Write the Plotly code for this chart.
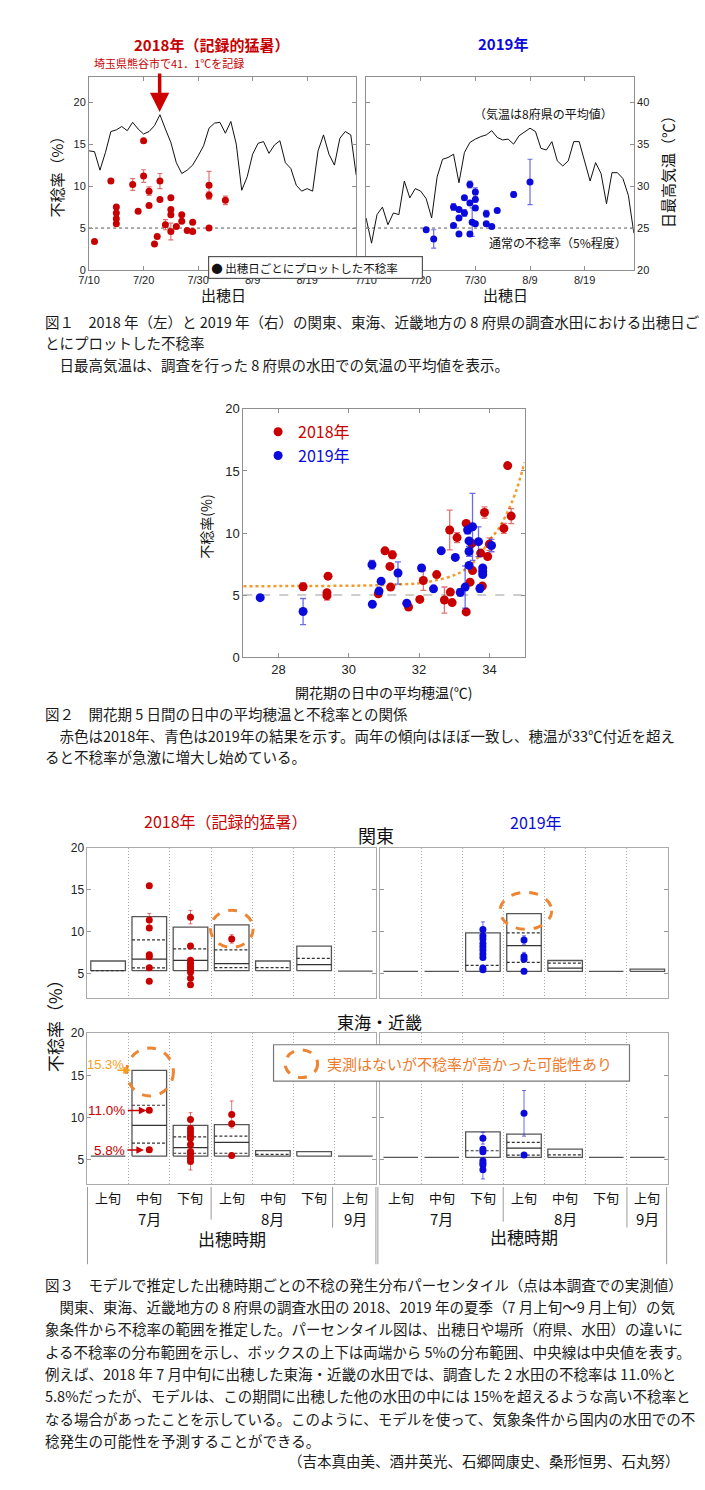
import plotly.graph_objects as go
import pandas as pd

W, H = 705, 1490
JP = "Noto Sans CJK JP"
NUM = "Liberation Sans"
RED = "#C80000"
BLUE = "#0A0ADC"
ORANGE = "#EE8533"
RED_E = "rgba(200,0,0,0.55)"
BLUE_E = "rgba(10,10,220,0.6)"
NORMAL_RATE = 5

# ================= Figure 1 data =================
tmax_dates_2018 = pd.date_range("2018-07-10", periods=50).strftime("%Y-%m-%d").tolist()
tmax_dates_2019 = pd.date_range("2019-07-10", periods=50).strftime("%Y-%m-%d").tolist()
tmax_2018 = [34.2, 34.1, 31.9, 34.0, 36.5, 36.7, 37.1, 36.6, 37.6, 36.8,
             36.2, 36.5, 37.2, 38.5, 36.8, 35.2, 32.8, 31.5, 31.9, 32.5,
             33.6, 34.8, 36.9, 37.5, 37.6, 36.3, 37.7, 35.0, 29.5, 31.1,
             33.8, 35.1, 35.3, 33.9, 34.9, 35.4, 32.8, 32.1, 30.1, 29.4,
             29.7, 29.4, 34.2, 36.1, 33.8, 32.5, 35.7, 36.5, 36.1, 31.3]
tmax_2019 = [26.2, 23.2, 26.6, 27.5, 25.4, 26.8, 26.6, 30.6, 28.6, 29.7,
             29.4, 28.5, 26.2, 31.1, 33.2, 33.4, 33.8, 30.4, 34.0, 35.2,
             35.6, 35.9, 36.1, 36.6, 35.8, 35.5, 35.6, 35.0, 36.0, 36.5,
             36.9, 36.5, 34.5, 34.3, 35.3, 33.0, 32.4, 33.0, 35.3, 35.3,
             32.8, 30.6, 32.8, 31.5, 27.9, 31.6, 31.6, 30.9, 28.9, 24.4]

s18_date = ["2018-07-11", "2018-07-14", "2018-07-15", "2018-07-15", "2018-07-15", "2018-07-15",
            "2018-07-18", "2018-07-19", "2018-07-20", "2018-07-20", "2018-07-21", "2018-07-21",
            "2018-07-22", "2018-07-22 12:00", "2018-07-23", "2018-07-23", "2018-07-24",
            "2018-07-25", "2018-07-25", "2018-07-25", "2018-07-25", "2018-07-26",
            "2018-07-27", "2018-07-27", "2018-07-28", "2018-07-29", "2018-07-29",
            "2018-08-01", "2018-08-01", "2018-08-01", "2018-08-04"]
s18_rate = [3.4, 10.6, 7.5, 6.8, 6.1, 5.5, 10.2, 7.0, 15.4, 11.2, 9.4, 7.7, 3.1, 4.0,
            10.6, 8.4, 5.4, 8.6, 7.2, 6.6, 4.6, 5.2, 6.6, 5.8, 4.7, 5.7, 4.6,
            10.1, 8.9, 5.0, 8.3]
s18_err = [0, 0, 0, 0, 0, 0, 0.7, 0, 0, 0.75, 0.5, 0, 0, 0, 0.9, 0, 0.6, 0, 0, 0, 1.0,
           0, 0, 0, 0, 0, 0, 1.65, 0.4, 0, 0.5]

s19_date = ["2019-07-21", "2019-07-22 09:00", "2019-07-26", "2019-07-26", "2019-07-27",
            "2019-07-27", "2019-07-27", "2019-07-28", "2019-07-28", "2019-07-29",
            "2019-07-29", "2019-07-29", "2019-07-29 10:00", "2019-07-30", "2019-07-30",
            "2019-07-30", "2019-07-30", "2019-08-01", "2019-08-01", "2019-08-02",
            "2019-08-03", "2019-08-06", "2019-08-09"]
s19_rate = [4.8, 3.7, 7.5, 5.3, 7.2, 6.2, 4.3, 8.6, 6.8, 10.2, 8.0, 4.3, 5.7, 9.3, 8.4,
            7.4, 5.5, 6.7, 5.5, 5.2, 7.1, 9.0, 10.5]
s19_err = [0, 1.1, 0.4, 0, 0, 0, 0, 0, 0.4, 0.4, 0, 0, 1.7, 0.5, 0, 0, 0, 0.4, 0, 0, 0,
           0.3, 2.7]

f1_range_2018 = ["2018-07-10", "2018-08-28"]
f1_range_2019 = ["2019-07-10", "2019-08-28"]
f1_ticks_2018 = ["2018-07-10", "2018-07-20", "2018-07-30", "2018-08-09", "2018-08-19"]
f1_ticks_2019 = ["2019-07-10", "2019-07-20", "2019-07-30", "2019-08-09", "2019-08-19"]
f1_ticklabels = ["7/10", "7/20", "7/30", "8/9", "8/19"]

# ================= Figure 2 data =================
f2_temp_2018 = [28.70, 29.41, 29.38, 29.38, 30.84, 31.03, 31.17, 31.19, 31.24, 31.70,
                32.02, 32.12, 32.50, 32.72, 32.87, 32.89, 32.94, 33.08, 33.34, 33.34,
                33.45, 33.50, 33.52, 33.75, 33.80, 33.86, 33.95, 34.00, 34.41, 34.52, 34.62]
f2_rate_2018 = [5.67, 6.52, 5.19, 4.95, 5.10, 8.56, 7.31, 5.64, 8.24, 4.04,
                4.65, 6.17, 6.65, 4.60, 10.24, 5.24, 4.39, 9.63, 10.77, 3.64,
                6.04, 9.15, 6.97, 8.38, 5.72, 11.65, 8.11, 9.10, 10.37, 15.43, 11.36]
f2_err_2018 = [0.3, 0, 0, 0.35, 0, 0, 0, 0, 0.3, 0,
               0, 0.8, 0, 1.05, 1.6, 0, 0, 0.4, 0, 0,
               0, 0, 0, 0, 0, 0.45, 0, 0.5, 0.4, 0, 0.6]
f2_temp_2019 = [27.48, 28.70, 30.66, 30.67, 30.86, 30.92, 31.40, 31.65, 32.07, 32.41,
                32.63, 33.03, 33.17, 33.31, 33.38, 33.42, 33.42, 33.42, 33.52, 33.69,
                33.73, 33.81, 33.81, 33.81, 34.06]
f2_rate_2019 = [4.79, 3.67, 7.45, 4.26, 5.32, 6.12, 6.78, 4.34, 7.18, 5.50,
                8.56, 8.03, 5.21, 5.64, 10.24, 9.36, 8.51, 7.39, 10.50, 9.30,
                5.53, 7.18, 6.90, 6.65, 8.99]
f2_err_2019 = [0, 1.05, 0.35, 0, 0, 0, 0.9, 0, 0.2, 0,
               0, 0, 0.3, 1.7, 0.3, 0, 0.4, 0, 2.7, 1.2,
               0.3, 0, 0, 0, 0.5]
fit_temp = [27, 28, 29, 30, 30.5, 31, 31.5, 32, 32.5, 33, 33.25, 33.5, 33.75, 34, 34.25,
            34.5, 34.75, 35]
fit_rate = [5.7, 5.72, 5.73, 5.75, 5.77, 5.8, 5.86, 5.95, 6.2, 6.6, 6.95, 7.5, 8.3, 9.4,
            10.3, 11.6, 13.3, 15.7]

# ================= Figure 3 data =================
periods = ["上旬", "中旬", "下旬", "上旬", "中旬", "下旬", "上旬"]
months = ["7月", "8月", "9月"]
month_center = [1, 4, 6]

k18_lo = [5.35, 5.35, 5.35, 5.35, 5.35, 5.35, 5.3]
k18_hi = [6.5, 11.8, 10.55, 10.8, 6.5, 8.27, 5.35]
k18_med = [None, 6.73, 6.57, 6.18, None, 6.06, None]
k18_d1 = [5.35, 9.02, 7.95, 7.83, 5.71, 6.81, None]
k18_d2 = [None, 5.67, None, 5.71, None, None, None]
k18_col = [1, 1, 1, 1, 1, 1, 1, 2, 2, 2, 2, 2, 2, 2, 2, 2, 3]
k18_val = [15.47, 11.38, 10.43, 7.24, 7.0, 5.71, 4.09,
           11.73, 8.3, 6.6, 6.2, 5.87, 5.55, 5.16, 4.45, 3.66, 9.13]
k18_err = [0, 0.8, 0, 0.3, 0, 0, 0, 0.8, 0.3, 0, 0, 0, 0, 0, 0, 0, 0.5]

k19_lo = [5.27, 5.27, 5.27, 5.27, 5.27, 5.27, 5.27]
k19_hi = [5.27, 5.27, 9.86, 12.14, 6.56, 5.27, 5.54]
k19_med = [None, None, None, 8.33, 5.66, None, None]
k19_d1 = [None, None, 5.97, 9.86, 6.25, None, None]
k19_d2 = [None, None, None, 6.33, None, None, None]
k19_col = [2, 2, 2, 2, 2, 2, 2, 2, 2, 2, 3, 3, 3, 3]
k19_val = [10.26, 9.51, 9.12, 8.6, 8.21, 7.82, 7.35, 6.92, 5.66, 5.46, 9.0, 7.03, 6.72, 5.27]
k19_err = [0.9, 0, 0, 0, 0, 0, 0, 0, 0, 0, 0.5, 0.5, 0, 0.3]

t18_lo = [5.43, 5.43, 5.43, 5.43, 5.43, 5.43, 5.43]
t18_hi = [5.43, 15.6, 9.09, 9.17, 6.09, 5.98, 5.43]
t18_med = [None, 9.09, 6.44, 7.07, None, None, None]
t18_d1 = [None, 11.47, 7.73, 7.81, 5.66, None, None]
t18_d2 = [None, 6.99, 5.78, 5.78, None, None, None]
t18_col = [1, 1, 2, 2, 2, 2, 2, 2, 2, 2, 2, 2, 3, 3, 3]
t18_val = [10.88, 6.21, 9.79, 8.7, 8.31, 7.9, 7.53, 6.83, 5.98, 5.66, 5.2, 4.8, 10.38, 9.29, 5.51]
t18_err = [0, 0, 0.8, 0, 0, 0, 0, 0, 0, 0, 0, 1.0, 1.6, 0, 0]

t19_lo = [5.29, 5.29, 5.29, 5.29, 5.29, 5.29, 5.29]
t19_hi = [5.29, 5.29, 8.31, 8.04, 6.27, 5.29, 5.29]
t19_med = [None, None, None, 6.4, None, None, None]
t19_d1 = [None, None, 6.08, 7.06, 5.6, None, None]
t19_d2 = [None, None, None, 5.57, None, None, None]
t19_col = [2, 2, 2, 2, 2, 2, 2, 3, 3]
t19_val = [7.57, 6.27, 5.96, 4.9, 4.6, 4.39, 3.84, 10.51, 5.57]
t19_err = [0.7, 0, 0, 0, 0, 0, 1.1, 2.7, 0]


def PX(x):
    return x / W


def PY(y):
    return 1 - y / H


traces = []
NOHOVER = dict(showlegend=False, hoverinfo="skip")

# ---- Figure 1 traces
traces.append(go.Scatter(x=tmax_dates_2018, y=tmax_2018, mode="lines",
                         line=dict(color="#111", width=1), xaxis="x", yaxis="y2", **NOHOVER))
traces.append(go.Scatter(x=s18_date, y=s18_rate, mode="markers",
                         marker=dict(color=RED, size=7),
                         error_y=dict(type="data", array=s18_err, color=RED_E, thickness=1.2, width=2.5),
                         xaxis="x", yaxis="y", **NOHOVER))
traces.append(go.Scatter(x=tmax_dates_2019, y=tmax_2019, mode="lines",
                         line=dict(color="#111", width=1), xaxis="x2", yaxis="y4", **NOHOVER))
traces.append(go.Scatter(x=s19_date, y=s19_rate, mode="markers",
                         marker=dict(color=BLUE, size=7),
                         error_y=dict(type="data", array=s19_err, color=BLUE_E, thickness=1.2, width=2.5),
                         xaxis="x2", yaxis="y3", **NOHOVER))

# ---- Figure 2 traces
traces.append(go.Scatter(x=[27, 35], y=[NORMAL_RATE, NORMAL_RATE], mode="lines",
                         line=dict(color="#bdbdbd", width=1.5, dash="dash"),
                         xaxis="x3", yaxis="y5", **NOHOVER))
traces.append(go.Scatter(x=fit_temp, y=fit_rate, mode="lines", line_shape="spline",
                         line=dict(color="#F39A2B", width=2.5, dash="dot"),
                         xaxis="x3", yaxis="y5", **NOHOVER))
traces.append(go.Scatter(x=f2_temp_2018, y=f2_rate_2018, mode="markers",
                         name="<span style='color:%s'>2018年</span>" % RED,
                         marker=dict(color=RED, size=9),
                         error_y=dict(type="data", array=f2_err_2018, color=RED_E, thickness=1.3, width=3),
                         xaxis="x3", yaxis="y5", showlegend=True, hoverinfo="skip"))
traces.append(go.Scatter(x=f2_temp_2019, y=f2_rate_2019, mode="markers",
                         name="<span style='color:%s'>2019年</span>" % BLUE,
                         marker=dict(color=BLUE, size=9),
                         error_y=dict(type="data", array=f2_err_2019, color=BLUE_E, thickness=1.3, width=3),
                         xaxis="x3", yaxis="y5", showlegend=True, hoverinfo="skip"))


# ---- Figure 3 traces
def percentile_panel(lo, hi, med, d1, d2, col, val, err, color, ecolor, xa, ya):
    w = 0.42
    bx, by = [], []
    for i, (l, h) in enumerate(zip(lo, hi)):
        bx += [i - w, i + w, i + w, i - w, i - w, None]
        by += [l, l, h, h, l, None]
    out = [go.Scatter(x=bx, y=by, mode="lines", line=dict(color="#555", width=1.3),
                      xaxis=xa, yaxis=ya, **NOHOVER)]
    for arr, dash, lc in [(med, "solid", "#333"), (d1, "3px,2px", "#333"), (d2, "3px,2px", "#333")]:
        lx, ly = [], []
        for i, v in enumerate(arr):
            if v is None:
                continue
            lx += [i - w, i + w, None]
            ly += [v, v, None]
        out.append(go.Scatter(x=lx, y=ly, mode="lines", line=dict(color=lc, width=1.2, dash=dash),
                              xaxis=xa, yaxis=ya, **NOHOVER))
    out.append(go.Scatter(x=col, y=val, mode="markers", marker=dict(color=color, size=7),
                          error_y=dict(type="data", array=err, color=ecolor, thickness=1, width=2),
                          xaxis=xa, yaxis=ya, **NOHOVER))
    return out


traces += percentile_panel(k18_lo, k18_hi, k18_med, k18_d1, k18_d2, k18_col, k18_val, k18_err,
                           RED, RED_E, "x4", "y6")
traces += percentile_panel(k19_lo, k19_hi, k19_med, k19_d1, k19_d2, k19_col, k19_val, k19_err,
                           BLUE, BLUE_E, "x5", "y7")
traces += percentile_panel(t18_lo, t18_hi, t18_med, t18_d1, t18_d2, t18_col, t18_val, t18_err,
                           RED, RED_E, "x6", "y8")
traces += percentile_panel(t19_lo, t19_hi, t19_med, t19_d1, t19_d2, t19_col, t19_val, t19_err,
                           BLUE, BLUE_E, "x7", "y9")

fig = go.Figure(traces)

# ---------------- axes ----------------
FRAME = "#8f8f8f"
base = dict(showline=True, linecolor=FRAME, linewidth=1, ticks="inside", ticklen=4,
            tickcolor=FRAME, showgrid=False, zeroline=False,
            tickfont=dict(family=NUM, size=11, color="#222"))

f1x_L = [PX(79.3), PX(350.7)]
f1x_R = [PX(360.7), PX(632.7)]
f1y = [PY(265.7), PY(70.7)]

lay = {}
lay["xaxis"] = dict(base, domain=f1x_L, anchor="y", type="date", range=f1_range_2018,
                    tickvals=f1_ticks_2018, ticktext=f1_ticklabels, mirror="ticks")
lay["yaxis"] = dict(base, domain=f1y, anchor="x", range=[0, 23], tickvals=[0, 5, 10, 15, 20],
                    mirror="ticks")
lay["yaxis2"] = dict(overlaying="y", anchor="x", range=[20, 43], visible=False)
lay["xaxis2"] = dict(base, domain=f1x_R, anchor="y3", type="date", range=f1_range_2019,
                     tickvals=f1_ticks_2019, ticktext=f1_ticklabels, mirror="ticks")
lay["yaxis3"] = dict(base, domain=f1y, anchor="x2", range=[0, 23], tickvals=[0, 5, 10, 15, 20],
                     showticklabels=False, mirror=False)
lay["yaxis4"] = dict(base, overlaying="y3", anchor="x2", side="right", range=[20, 43],
                     tickvals=[20, 25, 30, 35, 40])

lay["xaxis3"] = dict(base, domain=[PX(236), PX(521.7)], anchor="y5", range=[27, 35],
                     tickvals=[28, 30, 32, 34], mirror="ticks",
                     tickfont=dict(family=NUM, size=13, color="#222"))
lay["yaxis5"] = dict(base, domain=[PY(656.7), PY(406)], anchor="x3", range=[0, 20],
                     tickvals=[0, 5, 10, 15, 20], mirror="ticks",
                     tickfont=dict(family=NUM, size=13, color="#222"))

f3x_L = [PX(77.7), PX(370.7)]
f3x_R = [PX(375), PX(667.3)]
f3y_T = [PY(1001), PY(849.3)]
f3y_B = [PY(1189.3), PY(1036.7)]
f3x = dict(showline=True, linecolor="#aaaaaa", mirror=True, range=[-0.5, 6.5],
           tickvals=[0.5, 1.5, 2.5, 3.5, 4.5, 5.5], showticklabels=False, ticks="",
           showgrid=True, gridcolor="#a8a8a8", griddash="1px,2px", gridwidth=1, zeroline=False)
f3y = dict(base, linecolor="#aaaaaa", tickcolor="#999", range=[2.1, 20], tickvals=[5, 10, 15, 20],
           mirror="ticks", tickfont=dict(family=NUM, size=12, color="#222"))
lay["xaxis4"] = dict(f3x, domain=f3x_L, anchor="y6")
lay["yaxis6"] = dict(f3y, domain=f3y_T, anchor="x4")
lay["xaxis5"] = dict(f3x, domain=f3x_R, anchor="y7")
lay["yaxis7"] = dict(f3y, domain=f3y_T, anchor="x5", showticklabels=False)
lay["xaxis6"] = dict(f3x, domain=f3x_L, anchor="y8")
lay["yaxis8"] = dict(f3y, domain=f3y_B, anchor="x6")
lay["xaxis7"] = dict(f3x, domain=f3x_R, anchor="y9")
lay["yaxis9"] = dict(f3y, domain=f3y_B, anchor="x7", showticklabels=False)

fig.update_layout(**lay)

# ---------------- annotations ----------------
A = []


def txt(text, x, y, size, color="#111", bold=False, angle=0, xanchor="center", family=JP):
    A.append(dict(text=("<b>%s</b>" % text) if bold else text, x=PX(x), y=PY(y),
                  xref="paper", yref="paper", showarrow=False, xanchor=xanchor,
                  yanchor="middle", textangle=angle,
                  font=dict(family=family, size=size, color=color)))


def arrow(x_tip, y_tip, dx, color, width, head=2, size=1.0):
    A.append(dict(text="", x=PX(x_tip), y=PY(y_tip), xref="paper", yref="paper",
                  showarrow=True, ax=dx[0], ay=dx[1], arrowhead=head, arrowwidth=width,
                  arrowsize=size, arrowcolor=color))


# Figure 1
txt("2018年（記録的猛暑）", 204, 38, 15, RED, bold=True)
txt("埼玉県熊谷市で41．1℃を記録", 160, 57, 11, RED)
arrow(151, 106, (0, -40), "#CC0000", 3.5, head=2, size=1.1)
txt("2019年", 500, 37, 15, BLUE, bold=True)
txt("不稔率（%）", 46, 168, 15, angle=-90)
txt("日最高気温（℃）", 667, 163, 15, angle=-90)
txt("出穂日", 216, 290, 15)
txt("出穂日", 502, 290, 15)
txt("（気温は8府県の平均値）", 541, 108, 12)
txt("通常の不稔率（5%程度）", 556, 238, 12)
A.append(dict(text="● 出穂日ごとにプロットした不稔率", x=PX(309.7), y=PY(251.3), xref="paper",
              yref="paper", showarrow=False, width=209, height=17, align="left",
              bordercolor="#555", borderwidth=1.2, borderpad=2, bgcolor="white",
              font=dict(family=JP, size=11.5, color="#111")))

# Figure 2
txt("不稔率(%)", 198, 525, 14, angle=-90)
txt("開花期の日中の平均穂温(℃)", 378, 692, 14)

# Figure 3
txt("2018年（記録的猛暑）", 218, 822, 16, RED)
txt("2019年", 533, 823, 16, BLUE)
txt("関東", 371, 836, 18)
txt("東海・近畿", 374, 1025, 17)
txt("不稔率（%）", 44, 1025, 17, angle=-90)
txt("15.3%", 96, 1068, 13, "#F5A01E", family=NUM)
arrow(121.7, 1074, (-15, 0), "#F5A01E", 1.5, head=2, size=1)
txt("11.0%", 97, 1114.7, 13.5, RED, family=NUM)
arrow(137.5, 1114.7, (-20, 0), RED, 1.5, head=2, size=1)
txt("5.8%", 100, 1154.7, 13.5, RED, family=NUM)
arrow(135, 1154.7, (-18, 0), RED, 1.5, head=2, size=1)
txt("実測はないが不稔率が高かった可能性あり", 319, 1067, 15, "#EE7A2A", xanchor="left")

for xa, yb in [("x6", 1244), ("x7", 1242)]:
    for i, p in enumerate(periods):
        A.append(dict(text=p, x=i, xref=xa, y=PY(1202.5), yref="paper", showarrow=False,
                      yanchor="middle", font=dict(family=JP, size=13, color="#111")))
    for m, c in zip(months, month_center):
        A.append(dict(text=m, x=c, xref=xa, y=PY(1224), yref="paper", showarrow=False,
                      yanchor="middle", font=dict(family=JP, size=15, color="#111")))
    A.append(dict(text="出穂時期", x=3, xref=xa, y=PY(yb), yref="paper", showarrow=False,
                  yanchor="middle", font=dict(family=JP, size=17, color="#111")))

# Captions
CAP = 14.5
CAPC = "#1a1a1a"
cap1 = ["図１　2018 年（左）と 2019 年（右）の関東、東海、近畿地方の 8 府県の調査水田における出穂日ご",
        "とにプロットした不稔率",
        "　日最高気温は、調査を行った 8 府県の水田での気温の平均値を表示。"]
for t, y in zip(cap1, [318, 339, 361]):
    txt(t, 33, y, CAP, CAPC, xanchor="left")
cap2 = ["図２　開花期 5 日間の日中の平均穂温と不稔率との関係",
        "　赤色は2018年、青色は2019年の結果を示す。両年の傾向はほぼ一致し、穂温が33℃付近を超え",
        "ると不稔率が急激に増大し始めている。"]
for t, y in zip(cap2, [714, 736, 757]):
    txt(t, 33, y, CAP, CAPC, xanchor="left")
cap3 = ["図３　モデルで推定した出穂時期ごとの不稔の発生分布パーセンタイル（点は本調査での実測値）",
        "　関東、東海、近畿地方の 8 府県の調査水田の 2018、2019 年の夏季（7 月上旬～9 月上旬）の気",
        "象条件から不稔率の範囲を推定した。パーセンタイル図は、出穂日や場所（府県、水田）の違いに",
        "よる不稔率の分布範囲を示し、ボックスの上下は両端から 5%の分布範囲、中央線は中央値を表す。",
        "例えば、2018 年 7 月中旬に出穂した東海・近畿の水田では、調査した 2 水田の不稔率は 11.0%と",
        "5.8%だったが、モデルは、この期間に出穂した他の水田の中には 15%を超えるような高い不稔率と",
        "なる場合があったことを示している。このように、モデルを使って、気象条件から国内の水田での不",
        "稔発生の可能性を予測することができる。"]
for i, t in enumerate(cap3):
    txt(t, 33, 1290 + i * 22.6, CAP, CAPC, xanchor="left")
txt("（吉本真由美、酒井英光、石郷岡康史、桑形恒男、石丸努）", 682, 1468, CAP, CAPC, xanchor="right")

# ---------------- shapes ----------------
S = []
for xr, yr in [("x domain", "y"), ("x2 domain", "y3")]:
    S.append(dict(type="line", xref=xr, yref=yr, x0=0, x1=1, y0=NORMAL_RATE, y1=NORMAL_RATE,
                  line=dict(color="#555", width=1, dash="dot"), layer="below"))


def ellipse(cx, cy, rx, ry, width=3):
    S.append(dict(type="circle", xref="paper", yref="paper", x0=PX(cx - rx), x1=PX(cx + rx),
                  y0=PY(cy + ry), y1=PY(cy - ry),
                  line=dict(color=ORANGE, width=width, dash="dash")))


ellipse(224.3, 931.2, 21.7, 18.8)
ellipse(523, 913, 26.3, 18.7)
ellipse(141.2, 1075.8, 23.8, 24.2)
S.append(dict(type="rect", xref="paper", yref="paper", x0=PX(266.7), x1=PX(628.3),
              y0=PY(1085), y1=PY(1048.3), line=dict(color="#777", width=1.2), fillcolor="white"))
ellipse(295, 1067.5, 16.5, 14, width=3)
for x, y1 in [(77.7, 1270), (370.7, 1270), (203.3, 1225), (326.7, 1233),
              (372.7, 1270), (666, 1270), (500, 1227), (625.7, 1233)]:
    S.append(dict(type="line", xref="paper", yref="paper", x0=PX(x), x1=PX(x),
                  y0=PY(1192), y1=PY(y1), line=dict(color="#9a9a9a", width=1)))

fig.update_layout(
    width=W, height=H, autosize=False,
    margin=dict(l=0, r=0, t=0, b=0),
    paper_bgcolor="white", plot_bgcolor="white",
    font=dict(family=JP, color="#111"),
    annotations=A, shapes=S,
    showlegend=True,
    legend=dict(x=PX(251), y=PY(412), xanchor="left", yanchor="top",
                font=dict(family=JP, size=16), bgcolor="rgba(0,0,0,0)",
                itemwidth=30, tracegroupgap=0),
)

fig.write_html("out.html", config={"displayModeBar": False},
               post_script="document.body.style.margin='0';")
